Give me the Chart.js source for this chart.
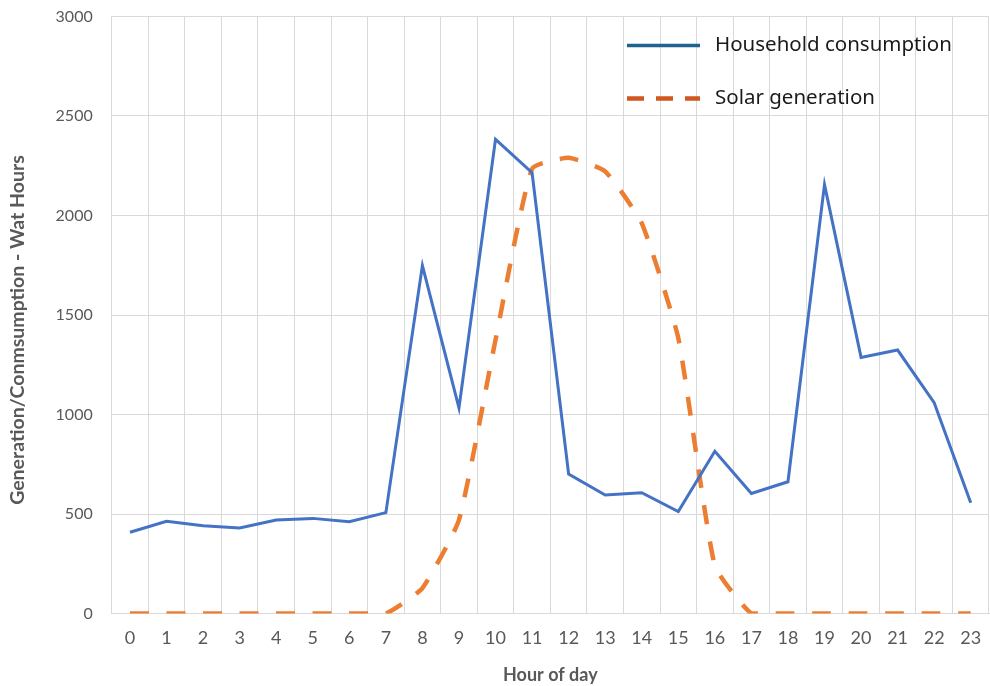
<!DOCTYPE html>
<html>
<head>
<meta charset="utf-8">
<script src="https://cdn.jsdelivr.net/npm/chart.js@4/dist/chart.umd.min.js"></script>
<style>
  html, body { margin: 0; padding: 0; background: #ffffff; }
  #wrap { width: 990px; height: 686px; }
</style>
</head>
<body>
<div id="wrap"><canvas id="chart" width="990" height="686"></canvas></div>
<script>
// Hour-of-day categories and hourly energy figures (Wh)
const hours = ['0','1','2','3','4','5','6','7','8','9','10','11','12','13','14','15','16','17','18','19','20','21','22','23'];
const householdConsumption = [408, 463, 441, 430, 470, 478, 461, 507, 1748, 1033, 2383, 2215, 701, 595, 607, 512, 815, 603, 662, 2155, 1287, 1324, 1059, 556];
const solarGeneration = [0, 0, 0, 0, 0, 0, 0, 0, 128, 470, 1375, 2235, 2290, 2222, 1962, 1384, 240, 0, 0, 0, 0, 0, 0, 0];
const yTicks = [0, 500, 1000, 1500, 2000, 2500, 3000];

const seriesNames = ['Household consumption', 'Solar generation'];
const lineColors = ['#4472C4', '#ED7D31'];
const legendColors = ['#1F6391', '#D0571E'];
const yAxisTitle = 'Generation/Conmsumption - Wat Hours';

const FONT = 'Lato, "Noto Sans", sans-serif';
const AXIS_GREY = '#595959';

// Legend drawn in the upper right corner of the plot area
const insideLegend = {
  id: 'insideLegend',
  afterDatasetsDraw(chart) {
    const ctx = chart.ctx;
    const area = chart.chartArea;
    const x0 = area.right - 362;
    const rows = [area.top + 29, area.top + 82];
    ctx.save();
    chart.data.datasets.forEach((ds, i) => {
      const y = rows[i];
      ctx.beginPath();
      ctx.strokeStyle = legendColors[i];
      ctx.lineWidth = i === 0 ? 3.5 : 4.5;
      ctx.setLineDash(i === 0 ? [] : [17, 12]);
      ctx.moveTo(x0, y);
      ctx.lineTo(x0 + 73, y);
      ctx.stroke();
      ctx.setLineDash([]);
      ctx.fillStyle = '#1a1a1a';
      ctx.font = '20.5px "Noto Sans", sans-serif';
      ctx.textBaseline = 'middle';
      ctx.textAlign = 'left';
      ctx.fillText(ds.label, x0 + 88, y);
    });
    ctx.restore();
  }
};

// Vertical value-axis title, set a little below the plot's middle
const valueAxisTitle = {
  id: 'valueAxisTitle',
  afterDraw(chart) {
    const ctx = chart.ctx;
    const area = chart.chartArea;
    ctx.save();
    ctx.translate(18, (area.top + area.bottom) / 2 + 15);
    ctx.rotate(-Math.PI / 2);
    ctx.fillStyle = AXIS_GREY;
    ctx.font = 'bold 19.5px ' + FONT;
    ctx.textAlign = 'center';
    ctx.textBaseline = 'middle';
    ctx.fillText(yAxisTitle, 0, 0);
    ctx.restore();
  }
};

new Chart(document.getElementById('chart'), {
  type: 'line',
  data: {
    labels: hours,
    datasets: [
      {
        label: seriesNames[0],
        data: householdConsumption,
        borderColor: lineColors[0],
        backgroundColor: lineColors[0],
        borderWidth: 3,
        pointRadius: 0,
        tension: 0,
        borderJoinStyle: 'miter'
      },
      {
        label: seriesNames[1],
        data: solarGeneration,
        borderColor: lineColors[1],
        backgroundColor: lineColors[1],
        borderWidth: 4.5,
        borderDash: [19, 17.5],
        borderCapStyle: 'butt',
        pointRadius: 0,
        tension: 0.15
      }
    ]
  },
  options: {
    responsive: false,
    animation: false,
    devicePixelRatio: 1,
    layout: { padding: { top: 16.5, right: 1, left: 0, bottom: 0 } },
    plugins: {
      legend: { display: false },
      tooltip: { enabled: false }
    },
    scales: {
      x: {
        offset: true,
        grid: { offset: true, color: '#D9D9D9', lineWidth: 1, drawTicks: false },
        border: { display: true, color: '#D9D9D9' },
        ticks: { color: AXIS_GREY, font: { family: FONT, size: 18 }, padding: 14, maxRotation: 0, autoSkip: false },
        title: { display: true, text: 'Hour of day', color: AXIS_GREY, font: { family: FONT, size: 18, weight: 'bold' }, padding: { top: 13, bottom: 0 } },
        afterFit(scale) {
          scale.height = 72.5;
          scale.paddingLeft = 0;
          scale.paddingRight = 0;
        }
      },
      y: {
        min: 0,
        max: 3000,
        afterBuildTicks(scale) { scale.ticks = yTicks.map(v => ({ value: v })); },
        grid: { color: '#D9D9D9', lineWidth: 1, drawTicks: false },
        border: { display: true, color: '#D9D9D9' },
        ticks: { color: AXIS_GREY, font: { family: FONT, size: 16 }, padding: 19, callback: v => String(v) },
        title: { display: false, text: yAxisTitle },
        afterFit(scale) {
          scale.width = 111.7;
          scale.paddingTop = 0;
          scale.paddingBottom = 0;
        }
      }
    }
  },
  plugins: [insideLegend, valueAxisTitle]
});
</script>
</body>
</html>
